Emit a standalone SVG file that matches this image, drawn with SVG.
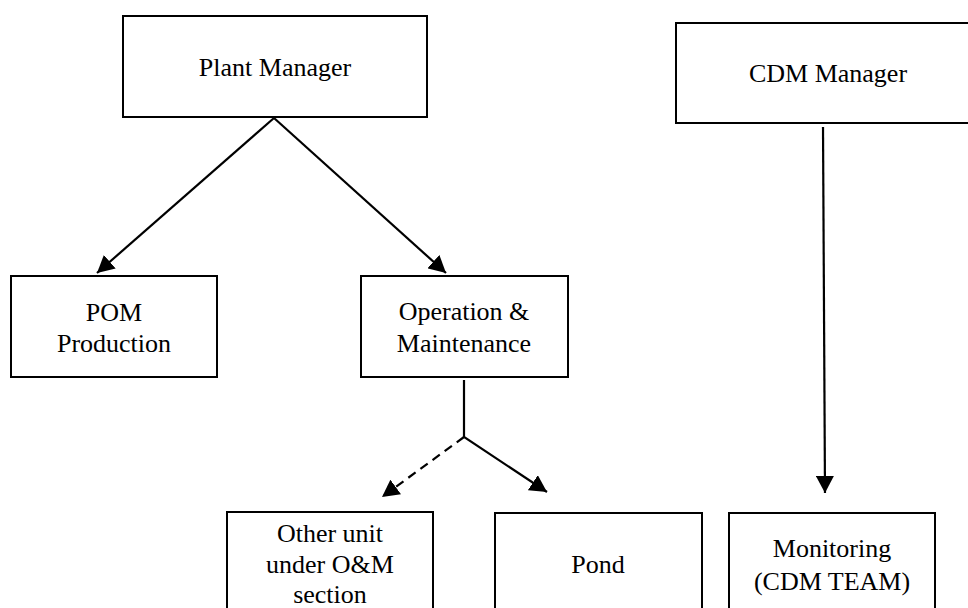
<svg xmlns="http://www.w3.org/2000/svg" width="968" height="608" viewBox="0 0 968 608">
<style>
.box{fill:#fff;stroke:#000;stroke-width:2}
.t{font-family:'Liberation Serif','Times New Roman',Tinos,'DejaVu Serif',serif;font-size:26px;fill:#000;text-anchor:middle}
.c{fill:none;stroke:#000;stroke-width:2.2}
.d{stroke-dasharray:9 6}
</style>
<defs>
<marker id="ah" markerUnits="userSpaceOnUse" markerWidth="20" markerHeight="18" refX="17" refY="9" orient="auto">
<path d="M0,0 L17,9 L0,18 Z" fill="#000"/>
</marker>
</defs>
<rect width="968" height="608" fill="#fff"/>
<g id="connectors">
<line class="c" x1="274" y1="118" x2="97" y2="273" marker-end="url(#ah)"/>
<line class="c" x1="274" y1="118" x2="446" y2="273" marker-end="url(#ah)"/>
<line class="c" x1="823" y1="127" x2="825" y2="493" marker-end="url(#ah)"/>
<polyline class="c" points="464,380 464,437 547,492" marker-end="url(#ah)"/>
<line class="c d" x1="464" y1="437" x2="382" y2="497" marker-end="url(#ah)"/>
</g>
<g id="plant-manager">
<rect class="box" x="123" y="16" width="304" height="101"/>
<text class="t" x="275" y="76" font-family="Liberation Serif, serif">Plant Manager</text>
</g>
<g id="cdm-manager">
<rect class="box" x="676" y="23" width="304" height="100"/>
<text class="t" x="828" y="82">CDM Manager</text>
</g>
<g id="pom-production">
<rect class="box" x="11" y="276" width="206" height="101"/>
<text class="t" x="114" y="321">POM</text>
<text class="t" x="114" y="352">Production</text>
</g>
<g id="operation-maintenance">
<rect class="box" x="361" y="276" width="207" height="101"/>
<text class="t" x="464" y="320">Operation &amp;</text>
<text class="t" x="464" y="352">Maintenance</text>
</g>
<g id="other-unit">
<rect class="box" x="227" y="512" width="206" height="110"/>
<text class="t" x="330" y="542">Other unit</text>
<text class="t" x="330" y="573">under O&amp;M</text>
<text class="t" x="330" y="603">section</text>
</g>
<g id="pond">
<rect class="box" x="495" y="513" width="207" height="110"/>
<text class="t" x="598" y="573">Pond</text>
</g>
<g id="monitoring">
<rect class="box" x="729" y="513" width="206" height="110"/>
<text class="t" x="832" y="557">Monitoring</text>
<text class="t" x="832" y="590">(CDM TEAM)</text>
</g>
</svg>
